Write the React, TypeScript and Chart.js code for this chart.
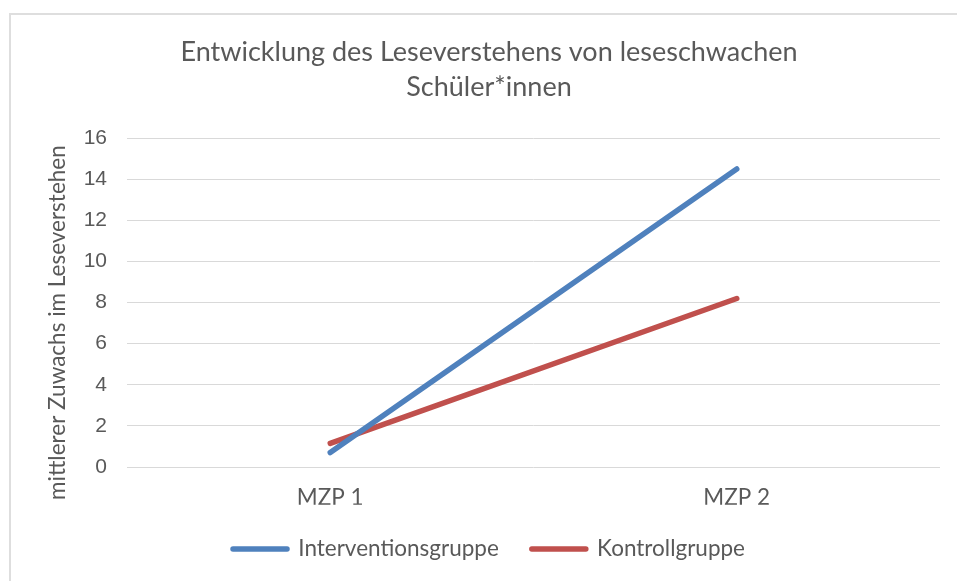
import React, { useEffect, useRef } from "react";
import { Chart, registerables } from "chart.js";

Chart.register(...registerables);

const TITLE_LINES = ["Entwicklung des Leseverstehens von leseschwachen", "Schüler*innen"];
const Y_TITLE = "mittlerer Zuwachs im Leseverstehen";
const CATEGORIES = ["MZP 1", "MZP 2"];
const SERIES_NAMES = ["Interventionsgruppe", "Kontrollgruppe"];
const INTERVENTION = [0.7, 14.5];
const KONTROLL = [1.15, 8.2];
const Y_MIN = 0;
const Y_MAX = 16;
const Y_STEP = 2;

const TEXT_COLOR = "#595959";
const CAL = "Lato, 'Open Sans', sans-serif";

const yTitlePlugin = {
  id: "yTitlePlugin",
  afterDraw(chart: any) {
    const { ctx, chartArea } = chart;
    ctx.save();
    ctx.translate(47, (chartArea.top + chartArea.bottom) / 2 + 20);
    ctx.rotate(-Math.PI / 2);
    ctx.font = "22.5px " + CAL;
    ctx.fillStyle = TEXT_COLOR;
    ctx.textAlign = "center";
    ctx.textBaseline = "middle";
    ctx.fillText(Y_TITLE, 0, 0);
    ctx.restore();
  },
};

export default function App() {
  const ref = useRef<HTMLCanvasElement | null>(null);
  useEffect(() => {
    if (!ref.current) return;
    const chart = new Chart(ref.current, {
      type: "line",
      data: {
        labels: CATEGORIES,
        datasets: [
          {
            label: SERIES_NAMES[0],
            data: INTERVENTION,
            borderColor: "#4f81bd",
            backgroundColor: "#4f81bd",
            borderWidth: 5.5,
            borderCapStyle: "round",
            borderJoinStyle: "round",
            pointRadius: 0,
            tension: 0,
            yAxisID: "y",
          },
          {
            label: SERIES_NAMES[1],
            data: KONTROLL,
            borderColor: "#c0504d",
            backgroundColor: "#c0504d",
            borderWidth: 5.5,
            borderCapStyle: "round",
            borderJoinStyle: "round",
            pointRadius: 0,
            tension: 0,
            yAxisID: "y",
          },
        ],
      },
      options: {
        animation: false,
        responsive: false,
        maintainAspectRatio: false,
        devicePixelRatio: 1,
        layout: { padding: { left: 0, right: 0, top: 0, bottom: 10.75 } },
        plugins: {
          title: {
            display: true,
            text: TITLE_LINES,
            color: TEXT_COLOR,
            font: { family: CAL, size: 27, weight: "normal", lineHeight: 1.3 },
            padding: { top: 20, bottom: 33 },
          },
          legend: {
            display: true,
            position: "bottom",
            labels: {
              color: TEXT_COLOR,
              font: { family: CAL, size: 22.5 },
              boxWidth: 54,
              boxHeight: 0,
              padding: 33,
            },
          },
          tooltip: { enabled: false },
        },
        scales: {
          x: {
            offset: true,
            grid: { display: false, drawTicks: false },
            border: { display: false },
            ticks: {
              color: TEXT_COLOR,
              font: { family: CAL, size: 22.5 },
              padding: 17.5,
              maxRotation: 0,
            },
            afterFit(scale: any) {
              scale.height = 37.75;
            },
          },
          y: {
            min: Y_MIN,
            max: Y_MAX,
            grid: { color: "#d9d9d9", lineWidth: 1, drawTicks: false },
            border: { display: false },
            ticks: {
              stepSize: Y_STEP,
              color: TEXT_COLOR,
              font: { family: "'Liberation Sans', Arial, sans-serif", size: 21 },
              padding: 20,
            },
            afterFit(scale: any) {
              scale.width = 116;
            },
          },
          yRight: {
            type: "linear",
            position: "right",
            display: true,
            min: 0,
            max: 1,
            grid: { display: false, drawTicks: false },
            border: { display: false },
            ticks: { display: false },
            afterFit(scale: any) {
              scale.width = 27;
            },
          },
        },
      },
      plugins: [yTitlePlugin],
    } as any);
    return () => chart.destroy();
  }, []);

  return (
    <div
      style={{
        position: "absolute",
        left: 9,
        top: 13,
        width: 948,
        height: 568,
        overflow: "hidden",
        borderLeft: "2px solid #dedede",
        borderTop: "2px solid #dedede",
        background: "#fff",
      }}
    >
      <canvas ref={ref} width={956} height={566} style={{ display: "block", width: 956, height: 566 }} />
    </div>
  );
}
